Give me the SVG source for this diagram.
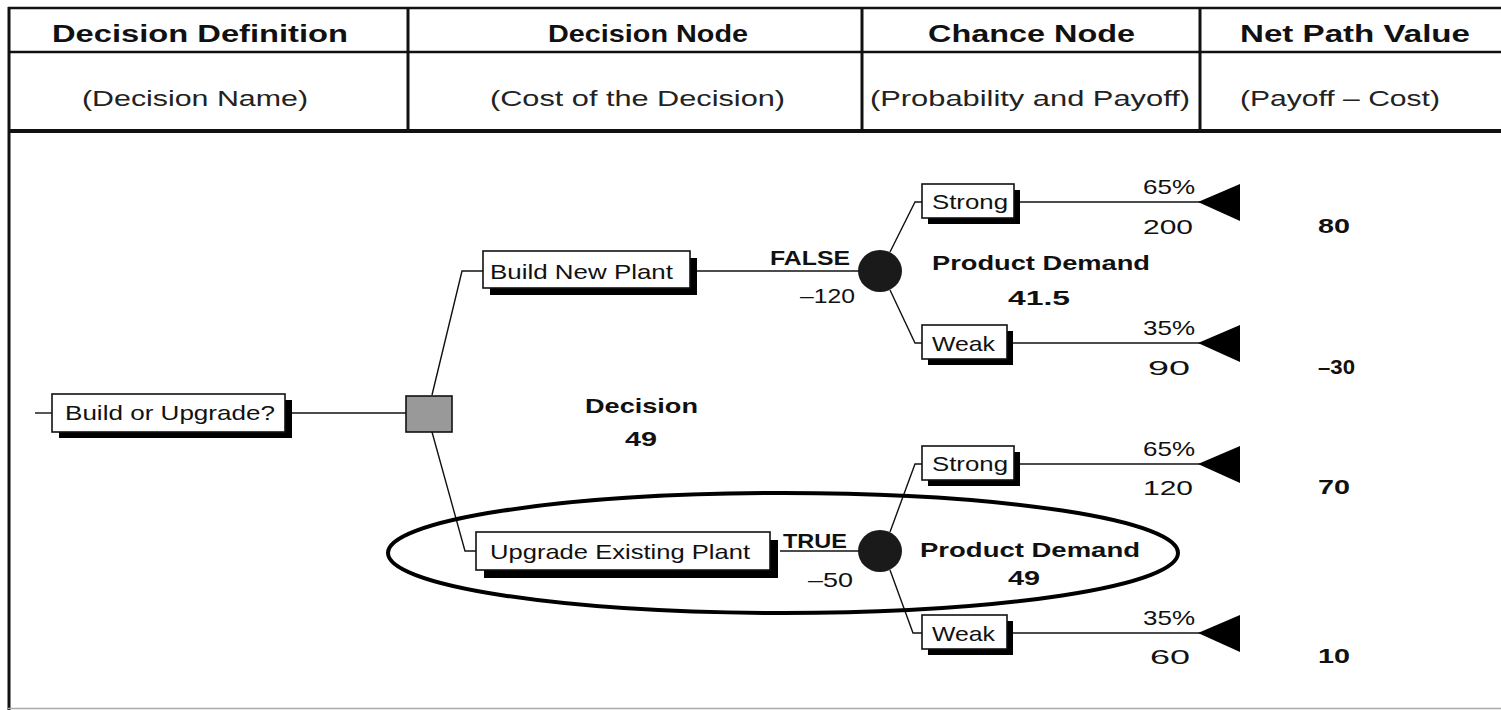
<svg xmlns="http://www.w3.org/2000/svg" width="1501" height="710" viewBox="0 0 1501 710">
<style>
.hb{font-family:"Liberation Sans",Arial,sans-serif;font-weight:bold;font-size:23px;fill:#111}
.hr{font-family:"Liberation Sans",Arial,sans-serif;font-size:22px;fill:#222}
.t{font-family:"Liberation Sans",Arial,sans-serif;font-size:21px;fill:#111}
.b{font-family:"Liberation Sans",Arial,sans-serif;font-weight:bold;font-size:21px;fill:#111}
.box{fill:#fff;stroke:#111;stroke-width:1.6}
.sh{fill:#000}
.ln{stroke:#111;stroke-width:1.4;fill:none}
.tri{fill:#000}
</style>
<rect width="1501" height="710" fill="#fff"/>
<g id="table">
  <line x1="9" y1="7" x2="9" y2="710" stroke="#111" stroke-width="3"/>
  <line x1="8" y1="8" x2="1501" y2="8" stroke="#111" stroke-width="2.5"/>
  <line x1="8" y1="52" x2="1501" y2="52" stroke="#111" stroke-width="2.5"/>
  <line x1="8" y1="131" x2="1501" y2="131" stroke="#111" stroke-width="4"/>
  <line x1="8" y1="708.5" x2="1501" y2="708.5" stroke="#aaa" stroke-width="1.5"/>
  <line x1="408" y1="8" x2="408" y2="131" stroke="#111" stroke-width="3"/>
  <line x1="862" y1="8" x2="862" y2="131" stroke="#111" stroke-width="3"/>
  <line x1="1200" y1="8" x2="1200" y2="131" stroke="#111" stroke-width="3"/>
  <text class="hb" x="52" y="42" textLength="296" lengthAdjust="spacingAndGlyphs">Decision Definition</text>
  <text class="hb" x="548" y="42" textLength="200" lengthAdjust="spacingAndGlyphs">Decision Node</text>
  <text class="hb" x="928" y="42" textLength="207" lengthAdjust="spacingAndGlyphs">Chance Node</text>
  <text class="hb" x="1240" y="42" textLength="230" lengthAdjust="spacingAndGlyphs">Net Path Value</text>
  <text class="hr" x="82" y="106" textLength="226" lengthAdjust="spacingAndGlyphs">(Decision Name)</text>
  <text class="hr" x="490" y="106" textLength="295" lengthAdjust="spacingAndGlyphs">(Cost of the Decision)</text>
  <text class="hr" x="870" y="106" textLength="320" lengthAdjust="spacingAndGlyphs">(Probability and Payoff)</text>
  <text class="hr" x="1240" y="106" textLength="200" lengthAdjust="spacingAndGlyphs">(Payoff – Cost)</text>
</g>
<g id="connectors">
  <line class="ln" x1="35" y1="413" x2="52" y2="413"/>
  <line class="ln" x1="290" y1="413" x2="406" y2="413"/>
  <polyline class="ln" points="432,395 462,271 483,271"/>
  <polyline class="ln" points="432,432 465,551 476,551"/>
  <line class="ln" x1="696" y1="271" x2="860" y2="271"/>
  <line class="ln" x1="780" y1="551" x2="860" y2="551"/>
  <polyline class="ln" points="890,252 915,202 922,202"/>
  <polyline class="ln" points="890,290 915,343 922,343"/>
  <polyline class="ln" points="890,532 915,464 922,464"/>
  <polyline class="ln" points="890,570 913,633 922,633"/>
  <line class="ln" x1="1020" y1="202" x2="1200" y2="202"/>
  <line class="ln" x1="1013" y1="343" x2="1200" y2="343"/>
  <line class="ln" x1="1020" y1="464" x2="1200" y2="464"/>
  <line class="ln" x1="1013" y1="633" x2="1200" y2="633"/>
  <text class="b" x="770" y="265" textLength="80" lengthAdjust="spacingAndGlyphs">FALSE</text>
  <text class="t" x="800" y="303" textLength="55" lengthAdjust="spacingAndGlyphs">–120</text>
  <text class="b" x="783" y="548" textLength="64" lengthAdjust="spacingAndGlyphs">TRUE</text>
  <text class="t" x="808" y="587" textLength="45" lengthAdjust="spacingAndGlyphs">–50</text>
  <text class="t" x="1143" y="194" textLength="52" lengthAdjust="spacingAndGlyphs">65%</text>
  <text class="t" x="1143" y="234" textLength="50" lengthAdjust="spacingAndGlyphs">200</text>
  <text class="t" x="1143" y="335" textLength="52" lengthAdjust="spacingAndGlyphs">35%</text>
  <text class="t" x="1148" y="375" textLength="42" lengthAdjust="spacingAndGlyphs">90</text>
  <text class="t" x="1143" y="456" textLength="52" lengthAdjust="spacingAndGlyphs">65%</text>
  <text class="t" x="1143" y="495" textLength="50" lengthAdjust="spacingAndGlyphs">120</text>
  <text class="t" x="1143" y="625" textLength="52" lengthAdjust="spacingAndGlyphs">35%</text>
  <text class="t" x="1150" y="664" textLength="40" lengthAdjust="spacingAndGlyphs">60</text>
</g>
<g id="root-box">
  <rect class="sh" x="59" y="400" width="233" height="38"/>
  <rect class="box" x="52" y="394" width="233" height="38"/>
  <text class="t" x="65" y="420" textLength="210" lengthAdjust="spacingAndGlyphs">Build or Upgrade?</text>
</g>
<g id="decision-node">
  <rect x="406" y="396" width="46" height="36" fill="#999" stroke="#111" stroke-width="1.6"/>
  <text class="b" x="585" y="413" textLength="113" lengthAdjust="spacingAndGlyphs">Decision</text>
  <text class="b" x="625" y="446" textLength="32" lengthAdjust="spacingAndGlyphs">49</text>
</g>
<g id="build-new-plant">
  <rect class="sh" x="490" y="258" width="207" height="37"/>
  <rect class="box" x="483" y="251" width="207" height="37"/>
  <text class="t" x="490" y="279" textLength="183" lengthAdjust="spacingAndGlyphs">Build New Plant</text>
</g>
<g id="upgrade-existing-plant">
  <rect class="sh" x="484" y="540" width="294" height="38"/>
  <rect class="box" x="476" y="532" width="294" height="38"/>
  <text class="t" x="490" y="559" textLength="260" lengthAdjust="spacingAndGlyphs">Upgrade Existing Plant</text>
</g>
<g id="chance-build">
  <ellipse cx="880" cy="271" rx="22" ry="21" fill="#1a1a1a"/>
  <text class="b" x="932" y="270" textLength="218" lengthAdjust="spacingAndGlyphs">Product Demand</text>
  <text class="b" x="1008" y="305" textLength="62" lengthAdjust="spacingAndGlyphs">41.5</text>
</g>
<g id="chance-upgrade">
  <ellipse cx="880" cy="551" rx="22" ry="21" fill="#1a1a1a"/>
  <text class="b" x="920" y="557" textLength="220" lengthAdjust="spacingAndGlyphs">Product Demand</text>
  <text class="b" x="1008" y="585" textLength="32" lengthAdjust="spacingAndGlyphs">49</text>
</g>
<g id="strong-1">
  <rect class="sh" x="928" y="190" width="92" height="34"/>
  <rect class="box" x="922" y="184" width="92" height="34"/>
  <text class="t" x="932" y="209" textLength="76" lengthAdjust="spacingAndGlyphs">Strong</text>
</g>
<g id="weak-1">
  <rect class="sh" x="928" y="331" width="85" height="34"/>
  <rect class="box" x="922" y="325" width="85" height="34"/>
  <text class="t" x="932" y="351" textLength="63" lengthAdjust="spacingAndGlyphs">Weak</text>
</g>
<g id="strong-2">
  <rect class="sh" x="928" y="452" width="92" height="34"/>
  <rect class="box" x="922" y="446" width="92" height="34"/>
  <text class="t" x="932" y="471" textLength="76" lengthAdjust="spacingAndGlyphs">Strong</text>
</g>
<g id="weak-2">
  <rect class="sh" x="928" y="621" width="85" height="34"/>
  <rect class="box" x="922" y="615" width="85" height="34"/>
  <text class="t" x="932" y="641" textLength="63" lengthAdjust="spacingAndGlyphs">Weak</text>
</g>
<g id="end-1">
  <polygon class="tri" points="1198,202 1240,184 1240,221"/>
  <text class="b" x="1318" y="233" textLength="32" lengthAdjust="spacingAndGlyphs">80</text>
</g>
<g id="end-2">
  <polygon class="tri" points="1198,343 1240,325 1240,362"/>
  <text class="b" x="1318" y="374" textLength="37" lengthAdjust="spacingAndGlyphs">–30</text>
</g>
<g id="end-3">
  <polygon class="tri" points="1198,464 1240,446 1240,483"/>
  <text class="b" x="1318" y="494" textLength="32" lengthAdjust="spacingAndGlyphs">70</text>
</g>
<g id="end-4">
  <polygon class="tri" points="1198,633 1240,615 1240,652"/>
  <text class="b" x="1318" y="663" textLength="32" lengthAdjust="spacingAndGlyphs">10</text>
</g>
<g id="highlight">
  <ellipse cx="783" cy="553" rx="395" ry="60" fill="none" stroke="#000" stroke-width="4"/>
</g>
</svg>
